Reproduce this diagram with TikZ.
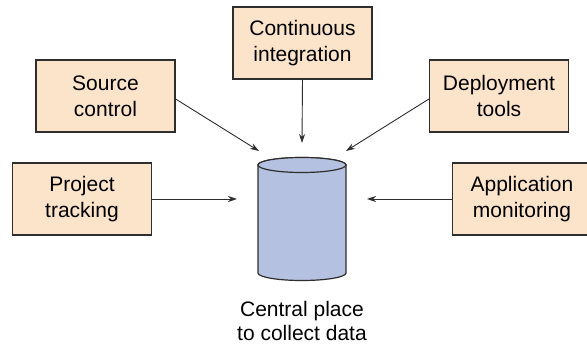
\documentclass[tikz,border=0pt]{standalone}
\usepackage{fontspec}
\setmainfont{Liberation Sans}
\usetikzlibrary{arrows.meta,calc}
\definecolor{boxfill}{HTML}{FCE4CA}
\definecolor{dbfill}{HTML}{B5C1E1}
\definecolor{edge}{HTML}{2E2E2E}
\begin{document}
\begin{tikzpicture}[x=1pt,y=1pt,
  srcbox/.style={draw=edge, line width=1.2pt, fill=boxfill, minimum width=139pt,
    minimum height=72pt, inner sep=0pt, align=center,
    font=\fontsize{21}{26}\selectfont},
  feed/.style={draw=edge, line width=0.9pt,
    -{Stealth[length=9pt,width=6pt]}}]
\useasboundingbox (0,0) rectangle (587,348);
\fill[white] (0,0) rectangle (587,348);

% data sources
\node[srcbox] (ci)  at (302.5,305) {Continuous\\integration};
\node[srcbox] (sc)  at (105.5,252) {Source\\control};
\node[srcbox] (dt)  at (499,252)   {Deployment\\tools};
\node[srcbox] (pt)  at (82,149)    {Project\\tracking};
\begin{scope}
  \clip (0,0) rectangle (587,348);
  \node[srcbox] (am) at (522,149) {Application\\monitoring};
\end{scope}

% central store drawn as a cylinder
\path[fill=dbfill, draw=edge, line width=1.2pt]
  (258,183) -- (258,75) arc[start angle=180, end angle=360, x radius=44pt, y radius=7.5pt]
  -- (346,183) arc[start angle=0, end angle=180, x radius=44pt, y radius=7.5pt] -- cycle;
\draw[fill=dbfill, draw=edge, line width=1.2pt] (302,183) ellipse[x radius=44pt, y radius=7.5pt];
\node[minimum width=88pt, minimum height=124pt, inner sep=0pt] (db) at (302,129) {};
\node[align=center, font=\fontsize{21}{24}\selectfont] (lbl) at (302,27)
  {Central place\\to collect data};

% arrow end points around the store
\coordinate (tci) at (302,205);
\coordinate (tsc) at (259,197);
\coordinate (tdt) at (346,197);
\coordinate (tpt) at (237,149);
\coordinate (tam) at (367,149);

\draw[feed] (ci.south) -- (tci);
\draw[feed] ([yshift=-3pt]sc.east) -- (tsc);
\draw[feed] ([yshift=-3pt]dt.west) -- (tdt);
\draw[feed] (pt.east) -- (tpt);
\draw[feed] (am.west) -- (tam);
\end{tikzpicture}
\end{document}
